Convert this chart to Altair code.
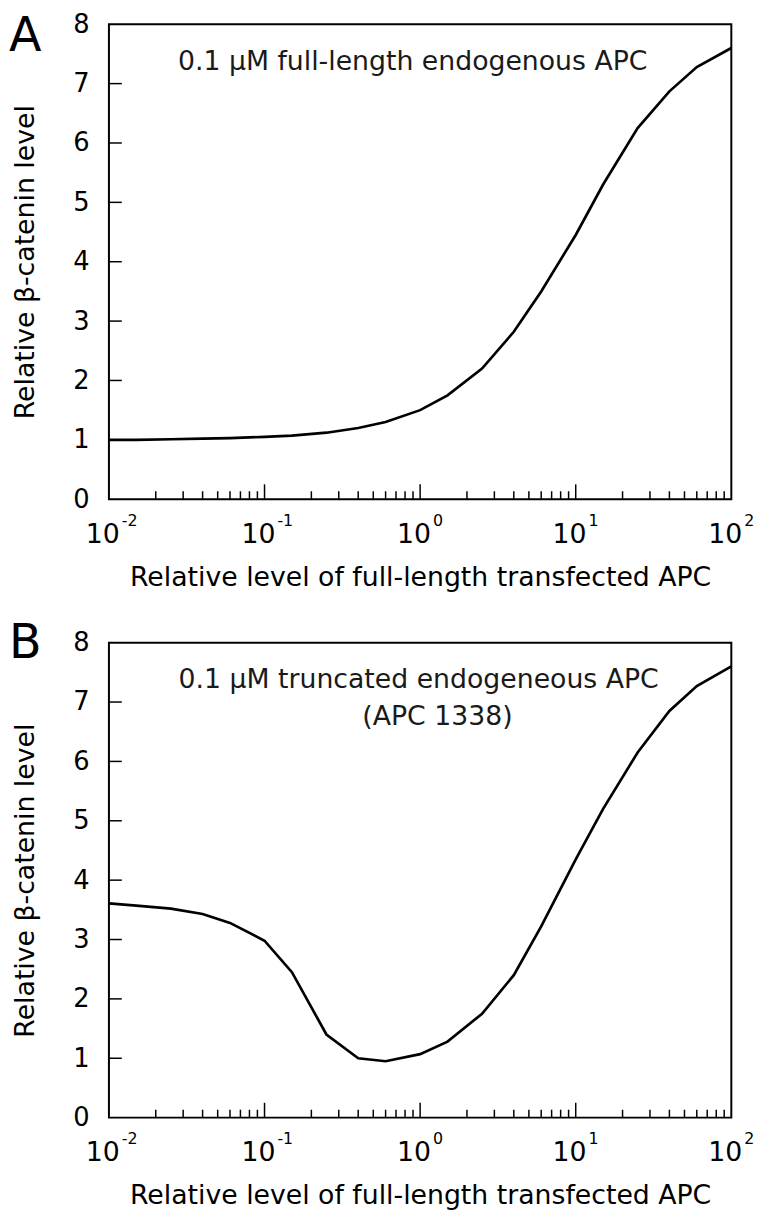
import altair as alt
import pandas as pd

# ---- data ----
x_vals = [0.01, 0.015, 0.025, 0.04, 0.06, 0.1, 0.15, 0.25, 0.4, 0.6,
          1.0, 1.5, 2.5, 4, 6, 10, 15, 25, 40, 60, 100]
y_full = [1.0, 1.0, 1.01, 1.02, 1.03, 1.05, 1.07, 1.12, 1.2, 1.3,
          1.5, 1.75, 2.2, 2.82, 3.5, 4.45, 5.3, 6.25, 6.87, 7.28, 7.6]
y_trunc = [3.61, 3.57, 3.52, 3.43, 3.28, 2.98, 2.45, 1.4, 1.0, 0.95,
           1.07, 1.28, 1.75, 2.4, 3.22, 4.35, 5.2, 6.15, 6.85, 7.27, 7.6]

x_major = [0.01, 0.1, 1, 10, 100]
x_exponents = ["-2", "-1", "0", "1", "2"]
x_inner_major = [0.1, 1, 10]
x_minor = [0.02, 0.03, 0.04, 0.05, 0.06, 0.07, 0.08, 0.09,
           0.2, 0.3, 0.4, 0.5, 0.6, 0.7, 0.8, 0.9,
           2, 3, 4, 5, 6, 7, 8, 9,
           20, 30, 40, 50, 60, 70, 80, 90]
y_axis_values = [0, 1, 2, 3, 4, 5, 6, 7, 8]
y_inner_ticks = [1, 2, 3, 4, 5, 6, 7]

X_TITLE = "Relative level of full-length transfected APC"
Y_TITLE = "Relative β-catenin level"
ann_A = ["0.1 μM full-length endogenous APC"]
ann_B = ["0.1 μM truncated endogeneous APC", "(APC 1338)"]

W, H = 629, 480
FS = 27

xs = alt.Scale(type="log", domain=[0.01, 100])
ys = alt.Scale(domain=[0, 8])

X_AXIS = alt.Axis(
    title=X_TITLE, labels=False, ticks=False, domain=False, grid=False,
    titleFontSize=FS, titleFontWeight="normal", titleColor="black", titlePadding=66,
)
Y_AXIS = alt.Axis(
    title=Y_TITLE, values=y_axis_values, ticks=False, domain=False, grid=False,
    labelFontSize=26, labelColor="black", labelPadding=20, labelOverlap=False,
    titleFontSize=27, titleFontWeight="normal", titleColor="black", titlePadding=34,
)


def X(field):
    return alt.X(field, scale=xs, axis=X_AXIS)


def Y(field):
    return alt.Y(field, scale=ys, axis=Y_AXIS)


def panel(yvals, letter, letter_y, ann_lines, ann_pos):
    df = pd.DataFrame({"x": x_vals, "y": yvals})
    line = alt.Chart(df).mark_line(color="black", strokeWidth=2.7).encode(
        x=X("x:Q"), y=Y("y:Q"))
    lab_df = pd.DataFrame({"v": x_major, "exp": x_exponents, "base": ["10"] * len(x_major)})
    base_txt = alt.Chart(lab_df).mark_text(
        fontSize=FS, align="right", baseline="alphabetic", dx=11, color="black"
    ).encode(x=X("v:Q"), y=alt.value(H + 44), text="base:N")
    exp_txt = alt.Chart(lab_df).mark_text(
        fontSize=16, align="left", baseline="alphabetic", dx=13, color="black"
    ).encode(x=X("v:Q"), y=alt.value(H + 27), text="exp:N")

    yt = alt.Chart(pd.DataFrame({"v": y_inner_ticks})).mark_rule(
        color="black", strokeWidth=1.5
    ).encode(y=Y("v:Q"), x=alt.value(0), x2=alt.value(13))
    xt_major = alt.Chart(pd.DataFrame({"v": x_inner_major})).mark_rule(
        color="black", strokeWidth=1.5
    ).encode(x=X("v:Q"), y=alt.value(H - 15), y2=alt.value(H))
    xt_minor = alt.Chart(pd.DataFrame({"v": x_minor})).mark_rule(
        color="black", strokeWidth=1.5
    ).encode(x=X("v:Q"), y=alt.value(H - 8), y2=alt.value(H))

    letter_txt = alt.Chart(pd.DataFrame({"t": [letter]})).mark_text(
        fontSize=48, align="left", baseline="alphabetic", color="black"
    ).encode(x=alt.value(-101), y=alt.value(letter_y), text="t:N")

    layers = [line, xt_minor, xt_major, yt, base_txt, exp_txt, letter_txt]
    for t, (px, py) in zip(ann_lines, ann_pos):
        layers.append(
            alt.Chart(pd.DataFrame({"t": [t]})).mark_text(
                fontSize=FS, align="center", baseline="alphabetic", color="#1a1a1a"
            ).encode(x=alt.value(px), y=alt.value(py), text="t:N")
        )
    return alt.layer(*layers).properties(width=W, height=H)


pA = panel(y_full, "A", 27, ann_A, [(307, 46)])
pB = panel(y_trunc, "B", 15, ann_B, [(313, 46), (332, 83)])

chart = alt.vconcat(pA, pB, spacing=28).properties(
    padding={"left": 0, "top": -4, "right": 5, "bottom": 0}
).configure(font="DejaVu Sans").configure_view(
    stroke="black", strokeWidth=2
)

chart.save("out.html", embed_options={"renderer": "svg", "actions": False})
